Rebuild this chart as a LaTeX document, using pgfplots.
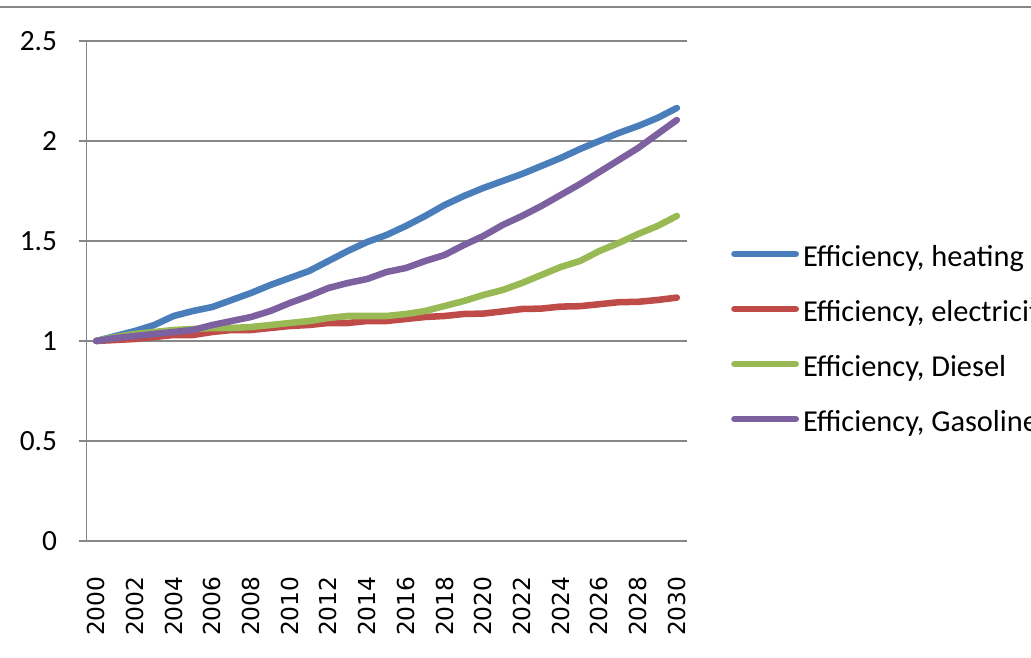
\documentclass[border=0pt]{standalone}
\usepackage{fontspec}
\setmainfont{Carlito}
\newfontfamily\dejavu{DejaVu Sans}
\usepackage{pgfplots}
\pgfplotsset{compat=1.18}
\definecolor{sblue}{HTML}{4A7EBB}
\definecolor{sred}{HTML}{BE4B48}
\definecolor{sgreen}{HTML}{98B954}
\definecolor{spurple}{HTML}{7D60A0}
\definecolor{gridgray}{HTML}{878787}
\begin{document}
\begin{tikzpicture}
\begin{scope}
\clip (0,0) rectangle (773.25pt,492.75pt);
\draw[gridgray, line width=1.9pt] (0,487.5pt) -- (773.25pt,487.5pt);
\begin{axis}[
  at={(64.875pt,87pt)}, anchor=south west,
  scale only axis, width=450pt, height=375pt,
  xmin=1999.5, xmax=2030.5, ymin=0, ymax=2.5,
  axis lines=left,
  axis line style={-, draw=gridgray, line width=1.4pt},
  tick align=outside,
  tick style={gridgray, line width=1.4pt},
  major tick length=6pt,
  minor tick length=8.25pt,
  xtick={2000,2002,...,2030},
  xticklabels={2000,2002,2004,2006,2008,2010,2012,2014,2016,2018,2020,2022,2024,2026,2028,2030},
  xtick style={draw=none},
  minor xtick={1999.5,2000.5,...,2030.5},
  minor x tick style={gridgray, line width=1.4pt},
  ytick={0,0.5,1,1.5,2,2.5},
  yticklabels={0,0.5,1,1.5,2,2.5},
  ymajorgrids,
  grid style={gridgray, line width=1.4pt},
  x tick label style={font=\dejavu\fontsize{17.5}{20}\selectfont, rotate=90, anchor=east, inner sep=0pt, yshift=0pt, xshift=-20.5pt},
  y tick label style={font=\fontsize{22}{25}\selectfont, anchor=east, inner sep=0pt, xshift=-16pt},
  legend style={at={(1.074,0.397)}, anchor=west, draw=none, fill=none, inner sep=0pt,
    row sep=21.25pt, column sep=3pt,
    font=\fontsize{22.8}{26}\selectfont,
    nodes={inner sep=0pt, text height=15pt, text depth=5pt}},
  legend cell align=left,
  legend image code/.code={\draw[#1, line cap=round] (0pt,4.5pt) -- (46pt,4.5pt);},
  every axis plot/.append style={line width=4.9pt, line join=round, line cap=round},
  clip=false,
]
\addplot[sblue] coordinates {
(2000,1.00) (2001,1.025) (2002,1.05) (2003,1.08) (2004,1.125) (2005,1.15) (2006,1.17) (2007,1.205) (2008,1.24) (2009,1.28) (2010,1.315)
(2011,1.35) (2012,1.40) (2013,1.45) (2014,1.495) (2015,1.53) (2016,1.575) (2017,1.625) (2018,1.68) (2019,1.725) (2020,1.765)
(2021,1.80) (2022,1.835) (2023,1.875) (2024,1.915) (2025,1.96) (2026,2.00) (2027,2.04) (2028,2.075) (2029,2.115) (2030,2.165)};
\addlegendentry{Efficiency, heating}
\addplot[sred] coordinates {
(2000,1.00) (2001,1.005) (2002,1.01) (2003,1.02) (2004,1.03) (2005,1.03) (2006,1.045) (2007,1.055) (2008,1.055) (2009,1.065) (2010,1.075)
(2011,1.08) (2012,1.09) (2013,1.09) (2014,1.10) (2015,1.10) (2016,1.11) (2017,1.12) (2018,1.125) (2019,1.135) (2020,1.137)
(2021,1.148) (2022,1.16) (2023,1.162) (2024,1.172) (2025,1.174) (2026,1.184) (2027,1.194) (2028,1.196) (2029,1.205) (2030,1.217)};
\addlegendentry{Efficiency, electricity}
\addplot[sgreen] coordinates {
(2000,1.00) (2001,1.02) (2002,1.035) (2003,1.045) (2004,1.055) (2005,1.06) (2006,1.065) (2007,1.065) (2008,1.07) (2009,1.08) (2010,1.09)
(2011,1.10) (2012,1.115) (2013,1.125) (2014,1.125) (2015,1.125) (2016,1.135) (2017,1.15) (2018,1.175) (2019,1.20) (2020,1.23)
(2021,1.255) (2022,1.29) (2023,1.33) (2024,1.37) (2025,1.40) (2026,1.45) (2027,1.49) (2028,1.535) (2029,1.575) (2030,1.625)};
\addlegendentry{Efficiency, Diesel}
\addplot[spurple] coordinates {
(2000,1.00) (2001,1.015) (2002,1.025) (2003,1.035) (2004,1.045) (2005,1.055) (2006,1.08) (2007,1.10) (2008,1.12) (2009,1.15) (2010,1.19)
(2011,1.225) (2012,1.265) (2013,1.29) (2014,1.31) (2015,1.345) (2016,1.365) (2017,1.40) (2018,1.43) (2019,1.48) (2020,1.525)
(2021,1.58) (2022,1.625) (2023,1.675) (2024,1.73) (2025,1.785) (2026,1.845) (2027,1.905) (2028,1.965) (2029,2.035) (2030,2.105)};
\addlegendentry{Efficiency, Gasoline}
\end{axis}
\end{scope}
\pgfresetboundingbox
\useasboundingbox (0,0) rectangle (773.25pt,492.75pt);
\end{tikzpicture}
\end{document}
